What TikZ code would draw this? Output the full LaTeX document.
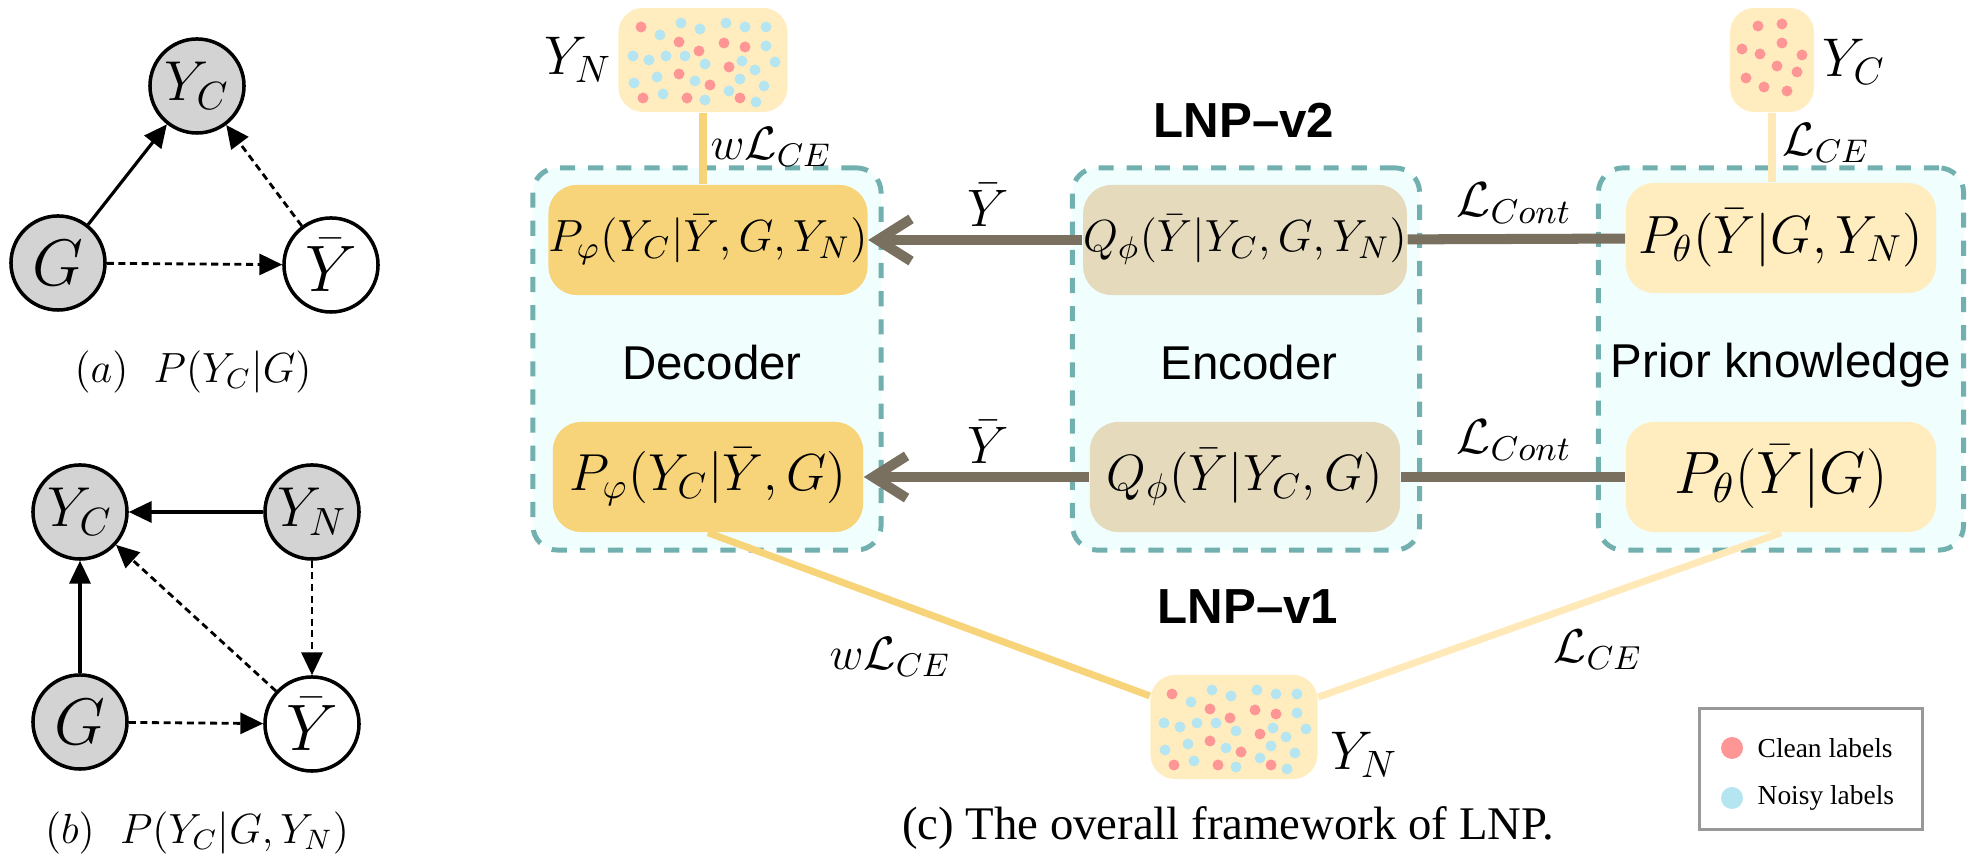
\RequirePackage{fix-cm}
\documentclass[tikz,border=0pt]{standalone}
\usepackage{amsmath}
\usepackage{fontspec}
\newfontfamily\sansfam{Liberation Sans}
\newfontfamily\seriffam{Liberation Serif}
\usepackage{xcolor}
\usetikzlibrary{arrows.meta,positioning}

\definecolor{nodegray}{HTML}{D3D3D3}
\definecolor{decfill}{HTML}{F7D479}
\definecolor{encfill}{HTML}{E6DABD}
\definecolor{prifill}{HTML}{FFEDC0}
\definecolor{framefill}{HTML}{F0FEFE}
\definecolor{framedraw}{HTML}{72AFAF}
\definecolor{flowgray}{HTML}{7A7060}
\definecolor{palegold}{HTML}{FFE9B9}
\definecolor{cleanred}{HTML}{FF9696}
\definecolor{noisyblue}{HTML}{B5E5F0}

\newcommand{\fs}[1]{\fontsize{#1}{1.2\dimexpr#1pt\relax}\selectfont}

% dot pattern of the noisy label sets, relative to the box centre
\newcommand{\noisydots}[1]{%
  \begin{scope}[shift={(#1)}]
    \foreach \dx/\dy in {-62/-33,-24/-18,-4/-9,21/-17,42/-13,26/7,-24/14,7/25,-60/38,-16/38,37/38}
      \fill[cleanred] (\dx,\dy) circle[radius=0.055cm];
    \foreach \dx/\dy in {-43/-25,-22/-37,-3/-31,23/-37,42/-33,63/-33,63/-14,-70/-4,-54/0,-37/-4,-18/-4,2/4,39/1,52/10,72/2,-69/23,-46/17,-8/21,37/19,61/26,-40/34,2/40,26/31,53/42}
      \fill[noisyblue] (\dx,\dy) circle[radius=0.055cm];
  \end{scope}}

\begin{document}
\begin{tikzpicture}[
    x=0.01cm, y=-0.01cm,
    obs/.style={circle, draw=black, line width=1pt, fill=nodegray, minimum size=0.94cm, inner sep=0pt},
    latent/.style={obs, fill=white},
    cause/.style={-{Triangle[length=6.5pt,width=6pt]}, line width=0.9pt},
    infer/.style={cause, line width=0.8pt, dash pattern=on 2pt off 1.3pt},
    modframe/.style={draw=framedraw, fill=framefill, line width=1.4pt, dash pattern=on 4.3pt off 3.7pt, rounded corners=7pt, minimum height=3.82cm, inner sep=0pt},
    dist/.style={rounded corners=8pt, minimum width=3.1cm, minimum height=1.1cm, inner sep=0pt},
    decbox/.style={dist, fill=decfill},
    encbox/.style={dist, fill=encfill},
    pribox/.style={dist, fill=prifill},
    dotbox/.style={fill=prifill, rounded corners=7pt, minimum height=1.04cm, inner sep=0pt},
    ybarflow/.style={-{Straight Barb[length=9.5pt,width=12pt]}, line width=2.85pt, draw=flowgray},
    contline/.style={line width=2.85pt, draw=flowgray},
    golden/.style={line width=2pt, draw=decfill},
    pale/.style={line width=2pt, draw=palegold},
    lbl/.style={inner sep=0pt},
    blocktext/.style={font=\sansfam\fs{13.5}},
    version/.style={font=\sansfam\bfseries\fs{14}}
  ]
  \useasboundingbox (0,0) rectangle (1984,868);

  % (a) P(Y_C|G)
  \node[obs, font=\fs{16}] (ayc) at (197,86) {$Y_C$};
  \node[obs, font=\fs{18.7}] (ag) at (58,263) {$G$};
  \node[latent, font=\fs{18.7}] (ayb) at (331,265) {$\bar{Y}$};
  \draw[cause] (ag) -- (ayc);
  \draw[infer] (ayb) -- (ayc);
  \draw[infer] (ag) -- (ayb);
  \node[font=\fs{12}] (capa) at (193,372) {$(a)\hspace{0.6em}P(Y_C|G)$};

  % (b) P(Y_C|G,Y_N)
  \node[obs, font=\fs{16}] (byc) at (80,512) {$Y_C$};
  \node[obs, font=\fs{16}] (byn) at (312,512) {$Y_N$};
  \node[obs, font=\fs{18.7}] (bg) at (80,722) {$G$};
  \node[latent, font=\fs{18.7}] (byb) at (312,724) {$\bar{Y}$};
  \draw[cause] (byn) -- (byc);
  \draw[cause] (bg) -- (byc);
  \draw[infer] (byn) -- (byb);
  \draw[infer] (byb) -- (byc);
  \draw[infer] (bg) -- (byb);
  \node[font=\fs{12}] (capb) at (197,833) {$(b)\hspace{0.6em}P(Y_C|G,Y_N)$};

  % (c) framework
  \node[modframe, minimum width=3.48cm] (dec) at (707,359) {};
  \node[modframe, minimum width=3.47cm] (enc) at (1246,359) {};
  \node[modframe, minimum width=3.65cm] (pri) at (1781,359) {};

  \node[decbox, font=\fs{12.8}] (pd2) at (708,240) {$P_\varphi(Y_C|\bar{Y},G,Y_N)$};
  \node[encbox, font=\fs{12.8}] (qe2) at (1245,240) {$Q_\phi(\bar{Y}|Y_C,G,Y_N)$};
  \node[pribox, font=\fs{15.3}] (tp2) at (1781,238) {$P_\theta(\bar{Y}|G,Y_N)$};
  \node[decbox, font=\fs{14.8}] (pd1) at (708,477) {$P_\varphi(Y_C|\bar{Y},G)$};
  \node[encbox, font=\fs{14.5}] (qe1) at (1245,477) {$Q_\phi(\bar{Y}|Y_C,G)$};
  \node[pribox, font=\fs{17}] (tp1) at (1781,477) {$P_\theta(\bar{Y}|G)$};

  \node[blocktext] (dectxt) at (712,363) {Decoder};
  \node[blocktext] (enctxt) at (1249,363) {Encoder};
  \node[blocktext] (pritxt) at (1781,365) {Prior knowledge};
  \node[version] (v2) at (1244,120) {LNP\textendash v2};
  \node[version] (v1) at (1248,607) {LNP\textendash v1};

  \node[dotbox, minimum width=1.69cm] (ynt) at (703,60) {};
  \node[dotbox, minimum width=0.84cm] (yc) at (1772,60) {};
  \node[dotbox, minimum width=1.67cm] (ynb) at (1234,727) {};
  \noisydots{ynt}
  \noisydots{ynb}
  \foreach \dx/\dy in {-14/-34,10/-36,-30/-11,-12/-6,10/-17,30/-5,5/6,25/12,-26/18,-8/27,15/31}
    \fill[cleanred] ([shift={(\dx,\dy)}]yc.center) circle[radius=0.055cm];

  \node[lbl, font=\fs{15.5}] (ynttxt) at (578,60) {$Y_N$};
  \node[lbl, font=\fs{15.5}] (yctxt) at (1854,62) {$Y_C$};
  \node[lbl, font=\fs{15.5}] (ynbtxt) at (1364,755) {$Y_N$};

  \draw[ybarflow] (qe2) -- (pd2);
  \draw[ybarflow] (qe1) -- (pd1);
  \draw[contline] (qe2) -- (tp2);
  \draw[contline] (qe1) -- (tp1);
  \draw[golden] (ynt.south) -- (ynt.south |- pd2.north);
  \draw[pale] (yc.south) -- (yc.south |- tp2.north);
  \draw[golden] (pd1.south) -- (ynb);
  \draw[pale] (tp1.south) -- (ynb);

  \node[lbl, font=\fs{15}] (yb2) at (988,205) {$\bar{Y}$};
  \node[lbl, font=\fs{15}] (yb1) at (988,442) {$\bar{Y}$};
  \node[lbl, font=\fs{14}] (lc2) at (1514,203) {$\mathcal{L}_{Cont}$};
  \node[lbl, font=\fs{14}] (lc1) at (1514,440) {$\mathcal{L}_{Cont}$};
  \node[lbl, font=\fs{13.3}] (wl2) at (771,147) {$w\mathcal{L}_{CE}$};
  \node[lbl, font=\fs{13.3}] (l2) at (1826,143) {$\mathcal{L}_{CE}$};
  \node[lbl, font=\fs{13.3}] (wl1) at (890,657) {$w\mathcal{L}_{CE}$};
  \node[lbl, font=\fs{13.5}] (l1) at (1598,650) {$\mathcal{L}_{CE}$};

  % legend
  \draw[draw=black!40, line width=0.85pt] (1699,709) rectangle (1922,830);
  \fill[cleanred] (1732,748) circle[radius=0.11cm];
  \fill[noisyblue] (1732,798) circle[radius=0.11cm];
  \node[lbl, anchor=west, font=\seriffam\fs{7.8}] (cleantxt) at (1757,748) {Clean labels};
  \node[lbl, anchor=west, font=\seriffam\fs{7.8}] (noisytxt) at (1757,798) {Noisy labels};

  \node[font=\seriffam\fs{13.3}] (capc) at (1228,828) {(c) The overall framework of LNP.};
\end{tikzpicture}
\end{document}
